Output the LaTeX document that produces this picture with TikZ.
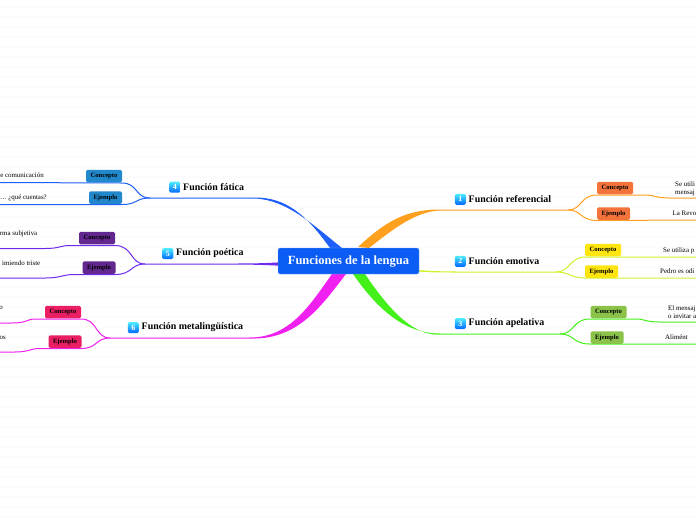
\documentclass[tikz,border=0pt]{standalone}
\usepackage{fontspec}
\setmainfont{Liberation Serif}
\usetikzlibrary{positioning}
\definecolor{rootblue}{HTML}{0A5CF5}
\definecolor{refline}{HTML}{FFA01E}
\definecolor{emoline}{HTML}{CCF52D}
\definecolor{apeline}{HTML}{44F01A}
\definecolor{fatline}{HTML}{1F5FFA}
\definecolor{poeline}{HTML}{6E2BEE}
\definecolor{metline}{HTML}{F020F0}
\definecolor{refbox}{HTML}{F4733B}
\definecolor{emobox}{HTML}{FFE50F}
\definecolor{apebox}{HTML}{8BC34A}
\definecolor{fatbox}{HTML}{2288CC}
\definecolor{poebox}{HTML}{63288F}
\definecolor{metbox}{HTML}{E91E63}
\definecolor{stripe}{HTML}{FCFCFC}
\begin{document}
\begin{tikzpicture}[
						x=1pt, y=-1pt,
						rootnode/.style={rectangle, rounded corners=2pt, fill=rootblue, draw=rootblue!50, line width=0.4pt, text=white, font=\bfseries\fontsize{12.5}{12.5}\selectfont, minimum width=141pt, minimum height=26pt, inner sep=0pt},
						topic/.style={rectangle, inner sep=0pt, font=\bfseries\fontsize{9.9}{11}\selectfont},
						num/.style={rectangle, rounded corners=1.5pt, top color=blue!10!cyan!70!white, bottom color=blue!60!cyan, text=white, font=\bfseries\fontsize{8}{8}\selectfont, minimum size=11pt, inner sep=0pt},
						tag/.style={rectangle, rounded corners=1.5pt, inner sep=0pt, minimum height=12.5pt, font=\bfseries\fontsize{6.6}{7}\selectfont},
						con/.style={tag, minimum width=36pt},
						eje/.style={tag, minimum width=33pt},
						leaf/.style={inner sep=0pt, align=left, font=\fontsize{6.9}{8}\selectfont},
						line/.style={line width=1pt}
					]
					\useasboundingbox (0,0) rectangle (696,520);
					\clip (0,0) rectangle (696,520);
					\fill[white] (0,0) rectangle (696,520);
					\foreach \y in {7,17,...,517} {
						\draw[stripe, line width=1.2pt] (0,\y) -- (696,\y);
					}

					\coordinate (s1) at (568,210);
					\coordinate (s2) at (556,272);
					\coordinate (s3) at (560,334);
					\coordinate (s4) at (150,198);
					\coordinate (s5) at (145,264);
					\coordinate (s6) at (110,338);
					\coordinate (e1) at (696,198);
					\coordinate (e2) at (696,220);
					\coordinate (e3) at (696,257);
					\coordinate (e4) at (696,278);
					\coordinate (e5) at (696,322);
					\coordinate (e6) at (696,344);
					\coordinate (e7) at (0,182.5);
					\coordinate (e8) at (0,204.5);
					\coordinate (e9) at (0,248.5);
					\coordinate (e10) at (0,278);
					\coordinate (e11) at (0,323);
					\coordinate (e12) at (0,352);

					% wide branches out of the root
					\fill[refline] (358,247) .. controls (385,222) and (405,209.5) .. (440,209.5) -- (440,210.5) .. controls (415,211.5) and (392,230) .. (369,248) -- cycle;
					\fill[fatline] (330,248) .. controls (305,213) and (285,197.5) .. (255,197.5) -- (255,198.5) .. controls (287,200) and (312,224) .. (342,248) -- cycle;
					\fill[apeline] (353,274) .. controls (378,310) and (405,333.5) .. (440,333.5) -- (440,334.5) .. controls (415,336) and (392,314) .. (365,274) -- cycle;
					\fill[metline] (332,274) .. controls (310,305) and (290,337.5) .. (250,337.5) -- (250,338.5) .. controls (297,340) and (320,308) .. (346,274) -- cycle;
					\fill[poeline] (280,262.3) .. controls (265,263.3) and (250,263.5) .. (235,263.5) -- (145,263.5) -- (145,264.5) -- (235,264.5) .. controls (250,264.5) and (265,265) .. (280,265.7) -- cycle;
					\fill[emoline] (419,270) .. controls (430,271) and (440,271.5) .. (460,271.5) -- (460,272.5) .. controls (440,272.5) and (430,272.5) .. (419,271.5) -- cycle;

					\begin{scope}[line]
					\draw[refline] (440,210) -- (s1) .. controls (582,210) and (580,195) .. (597,195) -- (645,195) .. controls (655,195) and (655,198) .. (670,198) -- (e1);
					\draw[refline] (s1) .. controls (582,210) and (580,220.5) .. (597,220.5) -- (e2);
					\draw[emoline] (460,272) -- (s2) .. controls (570,272) and (570,257) .. (585,257) -- (e3);
					\draw[emoline] (s2) .. controls (570,272) and (570,278) .. (585,278) -- (e4);
					\draw[apeline] (440,334) -- (s3) .. controls (575,334) and (572,319) .. (590,319) -- (636,319) .. controls (645,319) and (645,322) .. (660,322) -- (e5);
					\draw[apeline] (s3) .. controls (575,334) and (572,344) .. (590,344) -- (e6);
					\draw[fatline] (255,198) -- (s4) .. controls (135,198) and (138,183) .. (122,183) -- (e7);
					\draw[fatline] (s4) .. controls (135,198) and (138,204.5) .. (122,204.5) -- (e8);
					\draw[poeline] (s5) .. controls (130,264) and (133,245.5) .. (115,245.5) -- (70,245.5) .. controls (60,245.5) and (60,248.5) .. (45,248.5) -- (e9);
					\draw[poeline] (s5) .. controls (130,264) and (133,274.5) .. (115,274.5) -- (72,274.5) .. controls (62,275) and (60,278) .. (45,278) -- (e10);
					\draw[metline] (250,338) -- (s6) .. controls (95,338) and (98,319) .. (81,319) -- (35,319) .. controls (27,319) and (27,323) .. (12,323) -- (e11);
					\draw[metline] (s6) .. controls (95,338) and (98,348.5) .. (81,348.5) -- (38,348.5) .. controls (30,349) and (28,352) .. (15,352) -- (e12);
					\end{scope}

					\node[rootnode] (root) at (348.5,261) {\raisebox{-3.6pt}[0pt][0pt]{Funciones de la lengua}};

					\node[topic, anchor=west] (ref) at (468.5,199.3) {Función referencial};
					\node[topic, anchor=west] (emo) at (468.5,261.3) {Función emotiva};
					\node[topic, anchor=west] (ape) at (468.5,323.6) {Función apelativa};
					\node[topic, anchor=west] (fat) at (183,187.2) {Función fática};
					\node[topic, anchor=west] (poe) at (176,253.6) {Función poética};
					\node[topic, anchor=west] (met) at (141.5,327.6) {Función metalingüística};
					\node[num] (n1) [left=2.5pt of ref] {1};
					\node[num] (n2) [left=2.5pt of emo] {2};
					\node[num] (n3) [left=2.5pt of ape] {3};
					\node[num] (n4) [left=2.5pt of fat] {4};
					\node[num] (n5) [left=2.5pt of poe] {5};
					\node[num] (n6) [left=2.5pt of met] {6};

					\node[con, fill=refbox] (c1) at (615,188) {Concepto};
					\node[eje, fill=refbox] (j1) at (613.5,213.5) {Ejemplo};
					\node[con, fill=emobox] (c2) at (603,250) {Concepto};
					\node[eje, fill=emobox] (j2) at (601.5,271.5) {Ejemplo};
					\node[con, fill=apebox] (c3) at (608.5,312) {Concepto};
					\node[eje, fill=apebox] (j3) at (607,337.5) {Ejemplo};
					\node[con, fill=fatbox] (c4) at (104,176) {Concepto};
					\node[eje, fill=fatbox] (j4) at (105.5,197.5) {Ejemplo};
					\node[con, fill=poebox] (c5) at (97,238) {Concepto};
					\node[eje, fill=poebox] (j5) at (99,267.5) {Ejemplo};
					\node[con, fill=metbox] (c6) at (63,312) {Concepto};
					\node[eje, fill=metbox] (j6) at (65,341.5) {Ejemplo};

					\node[leaf, anchor=west] (t1) at (675,188.5) {Se utili\\mensaj};
					\node[leaf, anchor=west] (t2) at (672.5,213.5) {La Revo};
					\node[leaf, anchor=west] (t3) at (663,250.5) {Se utiliza p};
					\node[leaf, anchor=west] (t4) at (660,271.5) {Pedro es odi};
					\node[leaf, anchor=west] (t5) at (668,312.5) {El mensaj\\o invitar a};
					\node[leaf, anchor=west] (t6) at (665,337.5) {Alimént};
					\node[leaf, anchor=east] (t7) at (44,175.5) {e comunicación};
					\node[leaf, anchor=east] (t8) at (47,197.5) {i... ¿qué cuentas?};
					\node[leaf, anchor=east] (t9) at (37.5,233.5) {rma subjetiva};
					\node[leaf, anchor=east] (t10) at (40.5,263.5) {imiendo triste};
					\node[leaf, anchor=east] (t11) at (3,307.5) {o};
					\node[leaf, anchor=east] (t12) at (6,337.5) {os};
					\end{tikzpicture}
\end{document}
